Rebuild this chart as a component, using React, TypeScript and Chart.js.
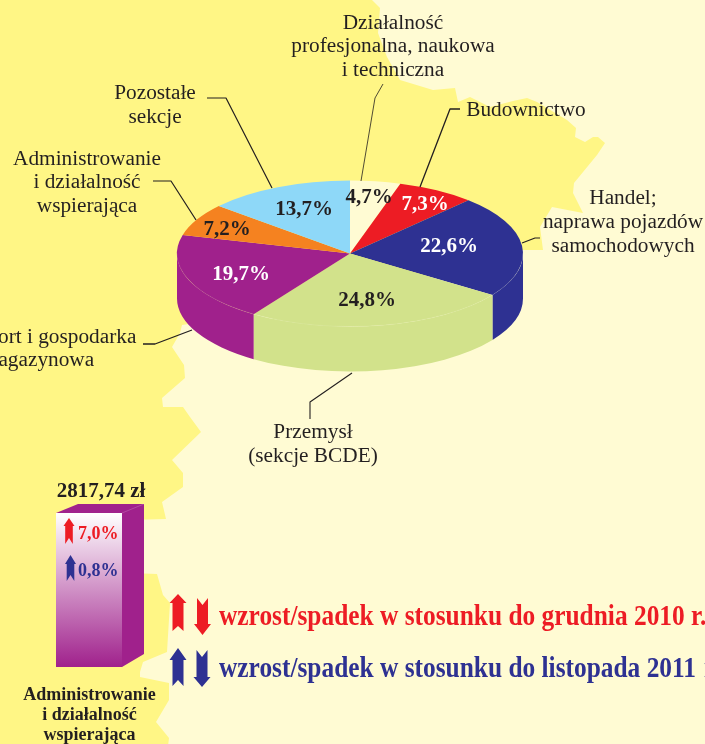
import React, { useEffect, useRef } from "react";
import { Chart, registerables } from "chart.js";

Chart.register(...registerables);

const sectorNames = [
  "Działalność profesjonalna, naukowa i techniczna",
  "Budownictwo",
  "Handel; naprawa pojazdów samochodowych",
  "Przemysł (sekcje BCDE)",
  "Transport i gospodarka magazynowa",
  "Administrowanie i działalność wspierająca",
  "Pozostałe sekcje",
];
const sectorShares = [4.7, 7.3, 22.6, 24.8, 19.7, 7.2, 13.7];
const sectorColors = ["#FFFBD3", "#ED1C24", "#2E3192", "#D2E28B", "#A0218C", "#F58220", "#8ED8F8"];
const shareTextColors = ["#231F20", "#FFFFFF", "#FFFFFF", "#231F20", "#FFFFFF", "#231F20", "#231F20"];
const shareTextAnchors: [number, number][] = [
  [369, 196], [425, 203], [449, 245], [367, 299], [241, 273], [227, 228], [304, 208],
];

const barCategory = ["Administrowanie i działalność wspierająca"];
const barValues = [2817.74];
const barValueLabel = "2817,74 zł";
const changeLabels = ["7,0%", "0,8%"];

const calloutTexts: { lines: string[]; x: number; ys: number[] }[] = [
  { lines: ["Działalność", "profesjonalna, naukowa", "i techniczna"], x: 393, ys: [29, 52, 76] },
  { lines: ["Budownictwo"], x: 526, ys: [116] },
  { lines: ["Handel;", "naprawa pojazdów", "samochodowych"], x: 623, ys: [204, 228, 252] },
  { lines: ["Przemysł", "(sekcje BCDE)"], x: 313, ys: [438, 462] },
  { lines: ["Transport i gospodarka", "magazynowa"], x: 38, ys: [343, 366] },
  { lines: ["Administrowanie", "i działalność", "wspierająca"], x: 87, ys: [165, 188, 212] },
  { lines: ["Pozostałe", "sekcje"], x: 155, ys: [99, 123] },
];
const leaderLines: { pts: [number, number][]; w: number }[] = [
  { pts: [[383, 84], [375, 98], [361, 181]], w: 0.8 },
  { pts: [[460, 109], [450, 109], [420, 187]], w: 1.3 },
  { pts: [[522, 243], [535, 238], [540, 238]], w: 1.2 },
  { pts: [[352, 373], [310, 402], [310, 419]], w: 1.1 },
  { pts: [[143, 344], [155, 344], [192, 330]], w: 1.3 },
  { pts: [[153, 181], [171, 181], [196, 220]], w: 1.2 },
  { pts: [[207, 98], [226, 98], [272, 188]], w: 1.2 },
];

const mapOutline: [number, number][] = [
  [-10, -10], [372, -10], [372, 0], [380, 8], [378, 33], [387, 57], [400, 80], [433, 90], [455, 88], [458, 102],
  [470, 97], [490, 107], [513, 101], [527, 98], [537, 102], [567, 120], [576, 128], [575, 137],
  [585, 142], [593, 137], [598, 137], [605, 143], [597, 155], [574, 183], [573, 193], [583, 213],
  [552, 207], [540, 227], [543, 250], [520, 250], [350, 300], [182, 325], [180, 333], [172, 347],
  [184, 365], [185, 378], [162, 398], [163, 407], [183, 407], [190, 417], [201, 432], [172, 460],
  [183, 473], [183, 487], [162, 502], [166, 519], [130, 520], [130, 573], [157, 574], [163, 595],
  [170, 603], [167, 652], [143, 662], [140, 672], [140, 677], [169, 683], [169, 700], [156, 722],
  [169, 738], [167, 754], [-10, 754],
];

const RED = "#ED1C24";
const NAVY = "#2E3192";
const PURPLE = "#A0218C";
const INK = "#231F20";
const PALE = "#FFFBD3";
const YELLOW = "#FFF685";
const SERIF = '"Liberation Serif"';

const CX = 350;
const CY = 253.5;
const RY = 73;
const DEPTH = 45;

function upArrow(ctx: CanvasRenderingContext2D, c: number, hw: number, sw: number, tip: number, base: number, notch: number, bottom: number, color: string) {
  ctx.fillStyle = color;
  ctx.beginPath();
  ctx.moveTo(c, tip);
  ctx.lineTo(c + hw, base);
  ctx.lineTo(c + sw, base);
  ctx.lineTo(c + sw, bottom);
  ctx.lineTo(c, notch);
  ctx.lineTo(c - sw, bottom);
  ctx.lineTo(c - sw, base);
  ctx.lineTo(c - hw, base);
  ctx.closePath();
  ctx.fill();
}

const piePlugin = {
  id: "pie3d",
  beforeDraw(chart: any) {
    const ctx: CanvasRenderingContext2D = chart.ctx;
    ctx.save();
    ctx.fillStyle = PALE;
    ctx.fillRect(0, 0, chart.width, chart.height);
    ctx.fillStyle = YELLOW;
    ctx.beginPath();
    mapOutline.forEach(([x, y], i) => (i ? ctx.lineTo(x, y) : ctx.moveTo(x, y)));
    ctx.closePath();
    ctx.fill();
    ctx.restore();
  },
  beforeDatasetsDraw(chart: any) {
    const ctx: CanvasRenderingContext2D = chart.ctx;
    const arcs = chart.getDatasetMeta(0).data;
    const rx = arcs[0].outerRadius;
    arcs.forEach((a: any) => {
      const s = Math.max(a.startAngle, 0);
      const e = Math.min(a.endAngle, Math.PI);
      if (s >= e) return;
      ctx.fillStyle = a.options.backgroundColor;
      ctx.beginPath();
      ctx.ellipse(CX, CY, rx, RY, 0, s, e);
      ctx.ellipse(CX, CY + DEPTH, rx, RY, 0, e, s, true);
      ctx.closePath();
      ctx.fill();
    });
    ctx.save();
    const k = RY / rx;
    const c = arcs[0].y;
    ctx.translate(0, CY - c * k);
    ctx.scale(1, k);
  },
  afterDatasetsDraw(chart: any) {
    const ctx: CanvasRenderingContext2D = chart.ctx;
    ctx.restore();
    const arcs = chart.getDatasetMeta(0).data;
    ctx.save();
    ctx.strokeStyle = "rgba(255,255,255,0.14)";
    ctx.lineWidth = 0.6;
    ctx.beginPath();
    ctx.ellipse(CX, CY, arcs[0].outerRadius, RY, 0, 0, Math.PI);
    ctx.stroke();

    ctx.lineJoin = "round";
    leaderLines.forEach(({ pts, w }) => {
      ctx.strokeStyle = INK;
      ctx.lineWidth = w;
      ctx.beginPath();
      pts.forEach(([x, y], i) => (i ? ctx.lineTo(x, y) : ctx.moveTo(x, y)));
      ctx.stroke();
    });

    ctx.textAlign = "center";
    ctx.textBaseline = "alphabetic";
    ctx.fillStyle = INK;
    ctx.font = `21.3px ${SERIF}`;
    calloutTexts.forEach(({ lines, x, ys }) => lines.forEach((t, i) => ctx.fillText(t, x, ys[i])));

    ctx.textBaseline = "middle";
    ctx.font = `bold 21px ${SERIF}`;
    sectorShares.forEach((v, i) => {
      ctx.fillStyle = shareTextColors[i];
      ctx.fillText(v.toFixed(1).replace(".", ",") + "%", shareTextAnchors[i][0], shareTextAnchors[i][1] + 2);
    });

    // legend
    ctx.textAlign = "left";
    ctx.textBaseline = "alphabetic";
    ctx.font = `bold 28.5px ${SERIF}`;
    const refText = "wzrost/spadek w stosunku do listopada 2011";
    const sx = 477 / ctx.measureText(refText).width;
    const legendRows: [string, string, number, number][] = [
      ["wzrost/spadek w stosunku do grudnia 2010 r.", RED, 219, 625],
      [refText, NAVY, 219, 677],
      ["r.", NAVY, 704, 677],
    ];
    legendRows.forEach(([t, col, x, y]) => {
      ctx.save();
      ctx.translate(x, y);
      ctx.scale(sx, 1);
      ctx.fillStyle = col;
      ctx.fillText(t, 0, 0);
      ctx.restore();
    });
    upArrow(ctx, 178, 8.5, 5.5, 594, 603, 626, 631, RED);
    upArrow(ctx, 202.5, 8.5, 5.5, 635, 624, 605, 598, RED);
    upArrow(ctx, 178, 8.5, 5.5, 648, 660, 680, 686, NAVY);
    upArrow(ctx, 202, 8.5, 5.5, 687, 677, 657, 650, NAVY);
    ctx.restore();
  },
};

const barPlugin = {
  id: "bar3d",
  beforeDatasetsDraw(chart: any) {
    const ctx: CanvasRenderingContext2D = chart.ctx;
    const b = chart.getDatasetMeta(0).data[0];
    const l = b.x - b.width / 2;
    const r = b.x + b.width / 2;
    const t = b.y;
    const bot = b.base;
    ctx.save();
    ctx.fillStyle = PURPLE;
    ctx.beginPath();
    ctx.moveTo(l, t);
    ctx.lineTo(l + 22, t - 9);
    ctx.lineTo(r + 22, t - 9);
    ctx.lineTo(r + 22, bot - 13);
    ctx.lineTo(r, bot);
    ctx.lineTo(r, t);
    ctx.closePath();
    ctx.fill();
    ctx.strokeStyle = "rgba(255,255,255,0.3)";
    ctx.lineWidth = 0.6;
    ctx.beginPath();
    ctx.moveTo(r, t);
    ctx.lineTo(r + 22, t - 9);
    ctx.stroke();
    ctx.restore();
  },
  afterDatasetsDraw(chart: any) {
    const ctx: CanvasRenderingContext2D = chart.ctx;
    const b = chart.getDatasetMeta(0).data[0];
    ctx.save();
    ctx.textAlign = "center";
    ctx.fillStyle = INK;
    ctx.font = `bold 21px ${SERIF}`;
    ctx.fillText(barValueLabel, 101, b.y - 16);
    ctx.font = `bold 18px ${SERIF}`;
    ["Administrowanie", "i działalność", "wspierająca"].forEach((t, i) => ctx.fillText(t, 89.5, 700 + i * 20));
    ctx.textAlign = "left";
    ctx.fillStyle = RED;
    ctx.fillText(changeLabels[0], 78, 539);
    ctx.fillStyle = NAVY;
    ctx.fillText(changeLabels[1], 78, 576);
    upArrow(ctx, 69, 5.5, 3.8, 518, 526, 538, 544, RED);
    upArrow(ctx, 70.5, 5.5, 3.8, 555, 564, 575, 581, NAVY);
    ctx.restore();
  },
};

export default function App() {
  const pieRef = useRef<HTMLCanvasElement>(null);
  const barRef = useRef<HTMLCanvasElement>(null);
  useEffect(() => {
    const pie = new Chart(pieRef.current!, {
      type: "pie",
      data: {
        labels: sectorNames,
        datasets: [{ data: sectorShares, backgroundColor: sectorColors, borderWidth: 0, hoverOffset: 0 }],
      },
      options: {
        responsive: false,
        animation: false,
        devicePixelRatio: 1,
        events: [],
        layout: { padding: { left: 177, right: 182, top: 80, bottom: 318 } },
        plugins: { legend: { display: false }, tooltip: { enabled: false } },
      },
      plugins: [piePlugin],
    } as any);
    const bar = new Chart(barRef.current!, {
      type: "bar",
      data: {
        labels: barCategory,
        datasets: [
          {
            data: barValues,
            borderWidth: 0,
            barPercentage: 1,
            categoryPercentage: 1,
            backgroundColor: (c: any) => {
              const area = c.chart.chartArea;
              if (!area) return PURPLE;
              const g = c.chart.ctx.createLinearGradient(0, area.top, 0, area.bottom);
              g.addColorStop(0, "#FFFFFF");
              g.addColorStop(1, PURPLE);
              return g;
            },
          },
        ],
      },
      options: {
        responsive: false,
        animation: false,
        devicePixelRatio: 1,
        events: [],
        layout: { padding: { left: 56, right: 583, top: 513, bottom: 77 } },
        scales: {
          x: { display: false },
          y: { display: false, min: 0, max: barValues[0] },
        },
        plugins: { legend: { display: false }, tooltip: { enabled: false } },
      },
      plugins: [barPlugin],
    } as any);
    return () => {
      pie.destroy();
      bar.destroy();
    };
  }, []);
  const cv: React.CSSProperties = { position: "absolute", left: 0, top: 0, display: "block" };
  return (
    <div style={{ position: "absolute", left: 0, top: 0, width: 705, height: 744, overflow: "hidden" }}>
      <canvas ref={pieRef} width={705} height={744} style={cv} />
      <canvas ref={barRef} width={705} height={744} style={cv} />
    </div>
  );
}
